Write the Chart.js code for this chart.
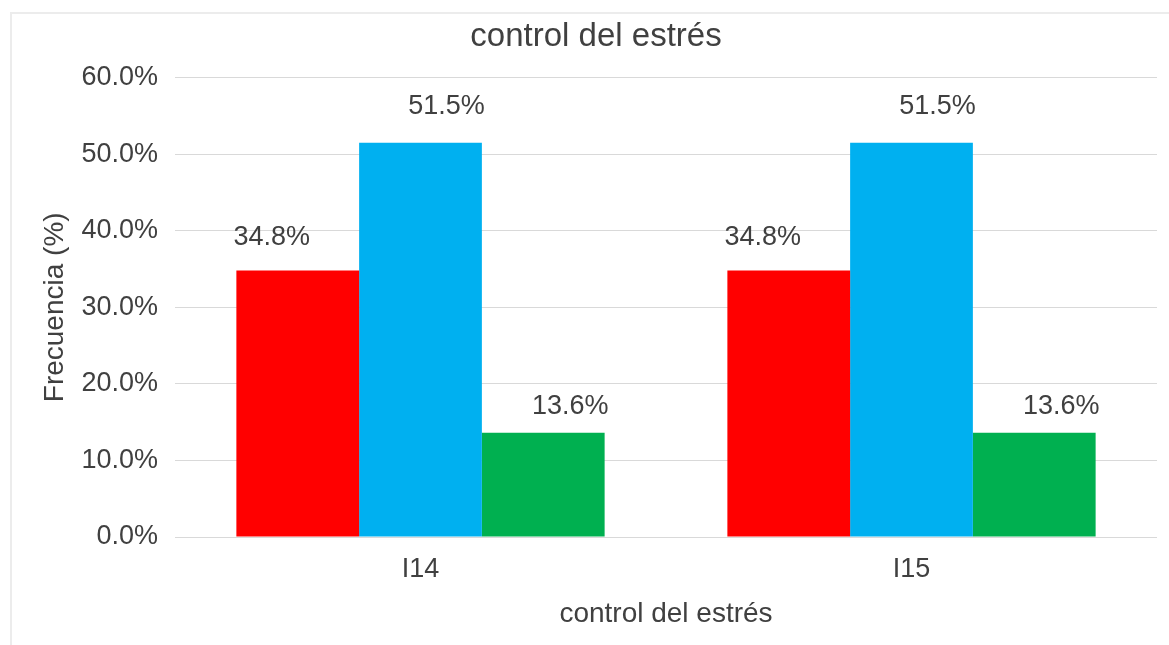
<!DOCTYPE html>
<html lang="es">
<head>
  <meta charset="UTF-8" />
  <title>control del estrés</title>
  <script src="https://cdn.jsdelivr.net/npm/chart.js"></script>
  <style>
    body {
      margin: 0;
      background: #fff;
    }
    #marco {
      position: absolute;
      left: 10px;
      top: 12px;
      width: 1200px;
      height: 700px;
      border: 2px solid #ececec;
    }
    #contenedor {
      position: absolute;
      left: 0;
      top: 0;
      width: 1169px;
      height: 645px;
    }
  </style>
</head>
<body>
  <div id="marco"></div>
  <div id="contenedor"><canvas id="grafica"></canvas></div>

  <script>
    const categorias = ["I14", "I15"];
    const serieRoja = [34.8, 34.8];
    const serieAzul = [51.5, 51.5];
    const serieVerde = [13.6, 13.6];
    const ticksY = [0, 10, 20, 30, 40, 50, 60];

    const colorTexto = "#404040";
    const fuente = "'Liberation Sans', Arial, sans-serif";

    // etiquetas encima de cada barra
    const desplX = [-26, 26, 27];
    const desplY = [33, 36, 26];
    const etiquetas = {
      id: "etiquetas",
      afterDatasetsDraw(chart) {
        const ctx = chart.ctx;
        ctx.save();
        ctx.font = "27px " + fuente;
        ctx.fillStyle = colorTexto;
        ctx.textAlign = "center";
        ctx.textBaseline = "middle";
        chart.data.datasets.forEach((ds, i) => {
          chart.getDatasetMeta(i).data.forEach((bar, j) => {
            ctx.fillText(ds.data[j].toFixed(1) + "%", bar.x + desplX[i], bar.y - desplY[i]);
          });
        });
        ctx.restore();
      }
    };

    const ctx = document.getElementById("grafica").getContext("2d");
    new Chart(ctx, {
      type: "bar",
      data: {
        labels: categorias,
        datasets: [
          { label: "rojo", data: serieRoja, backgroundColor: "#ff0000" },
          { label: "azul", data: serieAzul, backgroundColor: "#00b0f0" },
          { label: "verde", data: serieVerde, backgroundColor: "#00b050" }
        ]
      },
      options: {
        responsive: true,
        maintainAspectRatio: false,
        animation: false,
        layout: { padding: { left: 35, right: 12, top: 0, bottom: 0 } },
        datasets: {
          bar: { categoryPercentage: 0.75, barPercentage: 1.0 }
        },
        scales: {
          x: {
            grid: { display: false },
            border: { display: false },
            ticks: { color: colorTexto, font: { size: 27, family: fuente }, padding: 8 },
            title: {
              display: true,
              text: "control del estrés",
              color: colorTexto,
              font: { size: 28, family: fuente },
              padding: { top: 0, bottom: 14 }
            },
            afterFit(scale) { scale.height = 108; }
          },
          y: {
            min: 0,
            max: 60,
            afterBuildTicks(scale) { scale.ticks = ticksY.map(v => ({ value: v })); },
            grid: { color: "#d9d9d9", drawTicks: false },
            border: { display: false },
            ticks: {
              color: colorTexto,
              font: { size: 27, family: fuente },
              padding: 17,
              callback: v => v.toFixed(1) + "%"
            },
            title: {
              display: true,
              text: "Frecuencia (%)",
              color: colorTexto,
              font: { size: 28, family: fuente },
              padding: { top: 3, bottom: 0 }
            },
            afterFit(scale) { scale.width = 140; }
          }
        },
        plugins: {
          legend: { display: false },
          tooltip: { enabled: false },
          title: {
            display: true,
            text: "control del estrés",
            color: colorTexto,
            font: { size: 33, family: fuente, weight: "normal" },
            padding: { top: 17, bottom: 21 }
          }
        }
      },
      plugins: [etiquetas]
    });
  </script>
</body>
</html>
